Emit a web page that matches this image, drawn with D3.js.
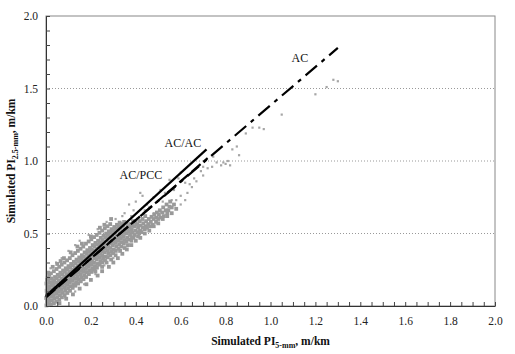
<!DOCTYPE html>
<html lang="en">
<head>
<meta charset="UTF-8">
<title>Simulated PI</title>
<script src="https://cdn.jsdelivr.net/npm/d3@7"></script>
<style>
  body { margin: 0; background: #fff; }
  svg text { font-family: "Liberation Serif", "Times New Roman", serif; }
</style>
</head>
<body>
<div id="chart"></div>
<script>
// axis ticks
const xTicks = d3.range(0, 2.0001, 0.05);
const yTicks = d3.range(0, 2.0001, 0.1);
const gridLines = [0.5, 1.0, 1.5];

// fitted lines
const fitNames = ["AC", "AC/AC", "AC/PCC"];
const fitXStart = [0, 0, 0];
const fitXEnd = [1.3, 0.715, 0.72];
const fitYStart = [0.065, 0.07, 0.06];
const fitYEnd = [1.78, 1.08, 1.02];
const labelX = [1.131, 0.61, 0.423];
const labelY = [1.683, 1.10, 0.876];

// simulated points [PI 5-mm, PI 2.5-mm], dense cloud
const densePoints = [
  [0.002,0.004],[0.005,0.03],[0.001,0.055],[0.004,0.08],[0.003,0.105],[0.006,0.13],[0.002,0.155],[0.004,0.18],[0.007,0.195],
  [0.011,0.01],[0.014,0.035],[0.01,0.06],[0.015,0.085],[0.012,0.11],[0.013,0.135],[0.016,0.16],[0.011,0.185],[0.014,0.215],
  [0.022,0.012],[0.026,0.04],[0.023,0.065],[0.027,0.09],[0.021,0.115],[0.025,0.14],[0.028,0.165],[0.024,0.19],[0.022,0.225],
  [0.035,0.02],[0.038,0.05],[0.034,0.075],[0.039,0.1],[0.036,0.125],[0.033,0.15],[0.037,0.175],[0.04,0.2],[0.035,0.24],
  [0.047,0.03],[0.05,0.06],[0.046,0.085],[0.049,0.11],[0.051,0.135],[0.045,0.16],[0.048,0.19],[0.052,0.215],[0.047,0.255],
  [0.059,0.045],[0.062,0.075],[0.058,0.1],[0.061,0.125],[0.063,0.15],[0.057,0.175],[0.06,0.205],[0.064,0.23],[0.059,0.27],
  [0.071,0.06],[0.074,0.09],[0.07,0.115],[0.073,0.14],[0.075,0.165],[0.069,0.19],[0.072,0.22],[0.076,0.245],[0.07,0.285],
  [0.083,0.075],[0.086,0.105],[0.082,0.13],[0.085,0.155],[0.087,0.18],[0.081,0.205],[0.084,0.235],[0.088,0.26],[0.082,0.3],
  [0.095,0.09],[0.098,0.12],[0.094,0.145],[0.097,0.17],[0.099,0.195],[0.093,0.22],[0.096,0.25],[0.1,0.275],[0.094,0.315],
  [0.107,0.105],[0.11,0.135],[0.106,0.16],[0.109,0.185],[0.111,0.21],[0.105,0.235],[0.108,0.265],[0.112,0.29],[0.106,0.33],
  [0.119,0.125],[0.122,0.15],[0.118,0.175],[0.121,0.2],[0.123,0.225],[0.117,0.25],[0.12,0.28],[0.124,0.305],[0.118,0.35],
  [0.131,0.14],[0.134,0.165],[0.13,0.19],[0.133,0.215],[0.135,0.24],[0.129,0.265],[0.132,0.295],[0.136,0.32],[0.13,0.365],
  [0.143,0.155],[0.146,0.18],[0.142,0.205],[0.145,0.23],[0.147,0.255],[0.141,0.28],[0.144,0.31],[0.148,0.335],[0.142,0.38],
  [0.155,0.17],[0.158,0.195],[0.154,0.22],[0.157,0.245],[0.159,0.27],[0.153,0.3],[0.156,0.325],[0.16,0.35],[0.154,0.395],
  [0.167,0.185],[0.17,0.21],[0.166,0.235],[0.169,0.26],[0.171,0.29],[0.165,0.315],[0.168,0.34],[0.172,0.37],[0.166,0.41],
  [0.179,0.2],[0.182,0.23],[0.178,0.255],[0.181,0.28],[0.183,0.305],[0.177,0.33],[0.18,0.36],[0.184,0.385],[0.178,0.43],
  [0.191,0.22],[0.194,0.245],[0.19,0.27],[0.193,0.295],[0.195,0.32],[0.189,0.35],[0.192,0.375],[0.196,0.4],[0.19,0.445],
  [0.203,0.235],[0.206,0.26],[0.202,0.285],[0.205,0.31],[0.207,0.34],[0.201,0.365],[0.204,0.39],[0.208,0.42],[0.202,0.46],
  [0.215,0.25],[0.218,0.275],[0.214,0.3],[0.217,0.33],[0.219,0.355],[0.213,0.38],[0.216,0.41],[0.22,0.435],[0.214,0.475],
  [0.227,0.265],[0.23,0.29],[0.226,0.32],[0.229,0.345],[0.231,0.37],[0.225,0.395],[0.228,0.425],[0.232,0.45],[0.226,0.49],
  [0.239,0.285],[0.242,0.31],[0.238,0.335],[0.241,0.36],[0.243,0.39],[0.237,0.415],[0.24,0.44],[0.244,0.47],[0.238,0.505],
  [0.251,0.3],[0.254,0.325],[0.25,0.35],[0.253,0.375],[0.255,0.405],[0.249,0.43],[0.252,0.455],[0.256,0.485],[0.25,0.52],
  [0.263,0.315],[0.266,0.34],[0.262,0.37],[0.265,0.395],[0.267,0.42],[0.261,0.445],[0.264,0.475],[0.268,0.5],[0.262,0.535],
  [0.275,0.335],[0.278,0.36],[0.274,0.385],[0.277,0.41],[0.279,0.44],[0.273,0.465],[0.276,0.49],[0.28,0.515],[0.274,0.55],
  [0.287,0.35],[0.29,0.375],[0.286,0.4],[0.289,0.43],[0.291,0.455],[0.285,0.48],[0.288,0.505],[0.292,0.53],[0.286,0.565],
  [0.299,0.365],[0.302,0.39],[0.298,0.42],[0.301,0.445],[0.303,0.47],[0.297,0.495],[0.3,0.52],[0.304,0.545],
  [0.311,0.38],[0.314,0.41],[0.31,0.435],[0.313,0.46],[0.315,0.485],[0.309,0.51],[0.312,0.535],[0.316,0.56],
  [0.323,0.395],[0.326,0.425],[0.322,0.45],[0.325,0.475],[0.327,0.5],[0.321,0.525],[0.324,0.55],[0.328,0.575],
  [0.335,0.41],[0.338,0.44],[0.334,0.465],[0.337,0.49],[0.339,0.515],[0.333,0.54],[0.336,0.565],
  [0.347,0.43],[0.35,0.455],[0.346,0.48],[0.349,0.505],[0.351,0.53],[0.345,0.555],[0.348,0.58],
  [0.359,0.445],[0.362,0.47],[0.358,0.5],[0.361,0.525],[0.363,0.55],[0.357,0.575],
  [0.371,0.46],[0.374,0.49],[0.37,0.515],[0.373,0.54],[0.375,0.565],
  [0.383,0.475],[0.386,0.505],[0.382,0.53],[0.385,0.555],[0.387,0.585],
  [0.395,0.49],[0.398,0.52],[0.394,0.55],[0.397,0.575],
  [0.407,0.51],[0.41,0.54],[0.406,0.565],[0.409,0.595],
  [0.419,0.52],[0.422,0.555],[0.418,0.585],
  [0.431,0.54],[0.434,0.57],[0.43,0.6],
  [0.443,0.55],[0.446,0.585],[0.442,0.62],
  [0.455,0.565],[0.458,0.6],[0.467,0.58],[0.47,0.615],[0.479,0.6],[0.482,0.63],
  [0.491,0.61],[0.494,0.645],[0.503,0.63],[0.507,0.66],[0.519,0.645],[0.522,0.68],
  [0.534,0.66],[0.537,0.7],[0.55,0.685],[0.553,0.72],
  [0.01,0.23],[0.03,0.27],[0.05,0.29],[0.065,0.31],[0.08,0.33],[0.11,0.37],[0.14,0.41],[0.16,0.43],
  [0.2,0.48],[0.24,0.54],[0.26,0.56],[0.29,0.6],
  [0.06,0.02],[0.09,0.05],[0.12,0.08],[0.15,0.12],[0.18,0.15],[0.2,0.18],[0.23,0.21],[0.25,0.24],
  [0.28,0.27],[0.3,0.3],[0.32,0.33],[0.34,0.36],[0.36,0.39],[0.38,0.42],[0.4,0.45],[0.42,0.47],
  [0.44,0.5],[0.46,0.52],[0.48,0.55],[0.5,0.57],[0.52,0.6],[0.54,0.62],[0.56,0.64],[0.58,0.67],
  [0.365,0.42],[0.38,0.45],[0.39,0.47],[0.41,0.48],[0.415,0.5],[0.425,0.51],[0.44,0.53],[0.45,0.54],
  [0.465,0.55],[0.475,0.56],[0.49,0.58],[0.5,0.6],[0.51,0.61],[0.525,0.62],[0.54,0.64],[0.545,0.66],
  [0.56,0.68],[0.57,0.7],[0.35,0.4],[0.33,0.38],[0.31,0.35],[0.29,0.32],[0.27,0.3],[0.25,0.27],[0.22,0.24]
];

// sparse outer points
const sparsePoints = [
  [0.02,0.26],[0.045,0.3],[0.07,0.33],[0.1,0.38],[0.13,0.42],[0.15,0.45],[0.19,0.49],[0.23,0.53],
  [0.27,0.58],[0.31,0.6],[0.34,0.62],[0.085,0.06],[0.13,0.1],[0.17,0.15],[0.22,0.22],[0.26,0.28],
  [0.3,0.33],[0.33,0.43],[0.37,0.7],[0.4,0.72],[0.42,0.78],[0.43,0.76],[0.39,0.66],[0.45,0.7],
  [0.48,0.75],[0.51,0.8],[0.55,0.87],[0.59,0.88],[0.6,0.92],[0.53,0.78],[0.48,0.64],[0.51,0.65],
  [0.56,0.73],[0.58,0.73],[0.6,0.7],[0.62,0.73],[0.6,0.76],[0.63,0.78],[0.65,0.82],[0.67,0.86],
  [0.62,0.85],[0.66,0.88],[0.69,0.93],[0.7,0.9],[0.72,0.95],[0.745,1.03],[0.74,0.96],[0.76,0.99],
  [0.78,0.97],[0.79,0.99],[0.8,0.98],[0.81,1.0],[0.82,0.97],[0.83,1.08],[0.85,1.1],[0.86,1.04],
  [0.89,1.19],[0.92,1.23],[0.95,1.23],[0.97,1.22],[1.05,1.32],[1.2,1.46],[1.25,1.51],[1.28,1.56],
  [1.3,1.55],[0.35,0.64],[0.38,0.62],[0.44,0.66],[0.46,0.68],[0.52,0.72],[0.57,0.8],[0.64,0.84],[0.7,0.96]
];

const width = 515, height = 354;
const margin = {top: 16, right: 20, bottom: 48, left: 46};

const svg = d3.select("#chart").append("svg")
  .attr("width", width)
  .attr("height", height);

const x = d3.scaleLinear().domain([0, 2]).range([margin.left, width - margin.right]);
const y = d3.scaleLinear().domain([0, 2]).range([height - margin.bottom, margin.top]);

// frame
svg.append("rect")
  .attr("x", x(0)).attr("y", y(2))
  .attr("width", x(2) - x(0)).attr("height", y(0) - y(2))
  .attr("fill", "none").attr("stroke", "#888").attr("stroke-width", 1);

// dotted gridlines
svg.selectAll(".grid").data(gridLines).join("line")
  .attr("x1", x(0)).attr("x2", x(2))
  .attr("y1", d => y(d)).attr("y2", d => y(d))
  .attr("stroke", "#999").attr("stroke-dasharray", "1,2");

// points
svg.append("g").selectAll("rect").data(sparsePoints).join("rect")
  .attr("x", d => x(d[0]) - 1.1)
  .attr("y", d => y(d[1]) - 1.1)
  .attr("width", 2.2).attr("height", 2.2)
  .attr("fill", "#a6a6a6");
svg.append("g").selectAll("rect").data(densePoints).join("rect")
  .attr("x", d => x(d[0]) - 1.9)
  .attr("y", d => y(d[1]) - 1.9)
  .attr("width", 3.8).attr("height", 3.8)
  .attr("fill", "#999");

// fitted lines
const dashes = ["15,6,4,6", null, "12,4"];
const line = d3.line().x(d => x(d[0])).y(d => y(d[1]));
fitNames.forEach((name, i) => {
  svg.append("path")
    .datum([[fitXStart[i], fitYStart[i]], [fitXEnd[i], fitYEnd[i]]])
    .attr("d", line)
    .attr("fill", "none")
    .attr("stroke", "#000")
    .attr("stroke-width", 2.2)
    .attr("stroke-dasharray", dashes[i]);
  svg.append("text")
    .attr("x", x(labelX[i]))
    .attr("y", y(labelY[i]))
    .attr("text-anchor", "middle")
    .attr("font-size", "12px")
    .attr("fill", "#111")
    .text(name);
});

// axes
const xAxis = svg.append("g")
  .attr("transform", `translate(0,${y(0)})`)
  .call(d3.axisBottom(x).tickValues(xTicks).tickSizeInner(-4).tickSizeOuter(0).tickPadding(11)
    .tickFormat(d => Math.abs(d * 5 - Math.round(d * 5)) < 1e-6 ? d3.format(".1f")(d) : ""));
const yAxis = svg.append("g")
  .attr("transform", `translate(${x(0)},0)`)
  .call(d3.axisLeft(y).tickValues(yTicks).tickSizeInner(-4).tickSizeOuter(0).tickPadding(8)
    .tickFormat(d => Math.abs(d * 2 - Math.round(d * 2)) < 1e-6 ? d3.format(".1f")(d) : ""));
[xAxis, yAxis].forEach(g => {
  g.select(".domain").attr("stroke", "#333");
  g.selectAll(".tick line").attr("stroke", "#444");
  g.selectAll("text").attr("font-size", "11.5px").attr("fill", "#222")
    .attr("font-family", "'Liberation Serif', serif");
});

// axis titles
const xTitle = svg.append("text")
  .attr("x", (x(0) + x(2)) / 2).attr("y", 345)
  .attr("text-anchor", "middle")
  .attr("font-size", "11.5px").attr("font-weight", "bold").attr("fill", "#111");
xTitle.append("tspan").text("Simulated PI");
xTitle.append("tspan").attr("font-size", "8px").attr("dy", 3).text("5-mm");
xTitle.append("tspan").attr("dy", -3).text(", m/km");

const yTitle = svg.append("text")
  .attr("transform", `translate(15,${(y(0) + y(2)) / 2}) rotate(-90)`)
  .attr("text-anchor", "middle")
  .attr("font-size", "11.5px").attr("font-weight", "bold").attr("fill", "#111");
yTitle.append("tspan").text("Simulated PI");
yTitle.append("tspan").attr("font-size", "8px").attr("dy", 3).text("2.5-mm");
yTitle.append("tspan").attr("dy", -3).text(", m/km");
</script>
</body>
</html>
